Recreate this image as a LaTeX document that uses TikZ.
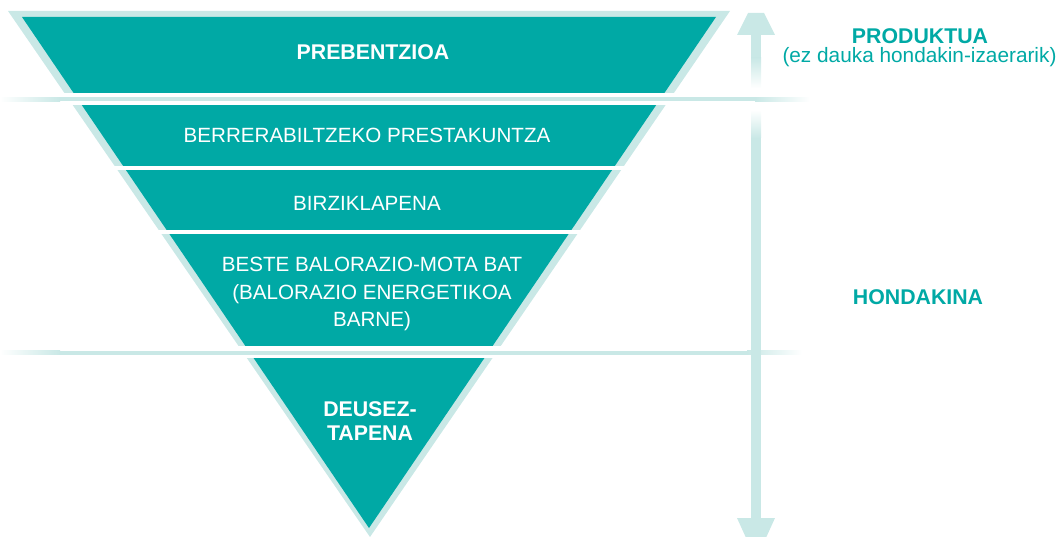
\documentclass[tikz,border=0pt]{standalone}
\usepackage{fontspec}
\setmainfont{Liberation Sans}
\definecolor{hteal}{HTML}{00A9A5}
\definecolor{hlight}{HTML}{C9E8E6}
\begin{document}
\begin{tikzpicture}[x=1pt, y=-1pt,
band/.style={text=white, font=\fontsize{20.6}{27.5}\selectfont, align=center, anchor=base, inner sep=0pt},
bandbold/.style={band, font=\bfseries\fontsize{21.3}{24}\selectfont},
side/.style={text=hteal, font=\fontsize{20.8}{24}\selectfont, anchor=base, inner sep=0pt},
sidebold/.style={side, font=\bfseries\fontsize{21.3}{24}\selectfont}]
\useasboundingbox (0,0) rectangle (1061,537);
\coordinate (lighttl) at (8,11);
\coordinate (lighttr) at (730,11);
\coordinate (lightap) at (370,537);
\coordinate (darktl) at (22,17);
\coordinate (darktr) at (716,17);
\coordinate (darkap) at (369,528);
\foreach \ya/\yb in {11/93, 106/166, 171/230, 235/346, 359/545} {
    \begin{scope}
        \clip (0,\ya) rectangle (1061,\yb);
        \fill[hlight] (lighttl) -- (lighttr) -- (lightap) -- cycle;
        \fill[hteal] (darktl) -- (darktr) -- (darkap) -- cycle;
    \end{scope}
}
\foreach \yl/\xe in {99.5/810, 352.8/802} {
    \shade[left color=white, right color=hlight] (0,\yl-2) rectangle (60,\yl+2);
    \fill[hlight] (60,\yl-2) rectangle (\xe-55,\yl+2);
    \shade[left color=hlight, right color=white] (\xe-55,\yl-2) rectangle (\xe,\yl+2);
}
\fill[hlight] (737,35) -- (748,13) -- (764,13) -- (775,35) -- cycle;
\fill[hlight] (751,35) rectangle (761,58);
\shade[top color=hlight, bottom color=white] (751,58) rectangle (761,88);
\shade[top color=white, bottom color=hlight] (751,110) rectangle (761,138);
\fill[hlight] (751,138) rectangle (761,518);
\fill[hlight] (737,518) -- (775,518) -- (765,540) -- (747,540) -- cycle;
\node[bandbold] (prev) at (373,60) {PREBENTZIOA};
\node[band] (berr) at (367,143) {BERRERABILTZEKO PRESTAKUNTZA};
\node[band] (birz) at (367,211) {BIRZIKLAPENA};
\node[band] (best) at (372,327) {BESTE BALORAZIO-MOTA BAT\\(BALORAZIO ENERGETIKOA\\BARNE)};
\node[bandbold] (deus) at (370,440) {DEUSEZ-\\TAPENA};
\node[sidebold] (prod) at (920,43.5) {PRODUKTUA};
\node[side] (ezda) at (919.5,63) {(ez dauka hondakin-izaerarik)};
\node[sidebold] (hond) at (918,305) {HONDAKINA};
\end{tikzpicture}
\end{document}
